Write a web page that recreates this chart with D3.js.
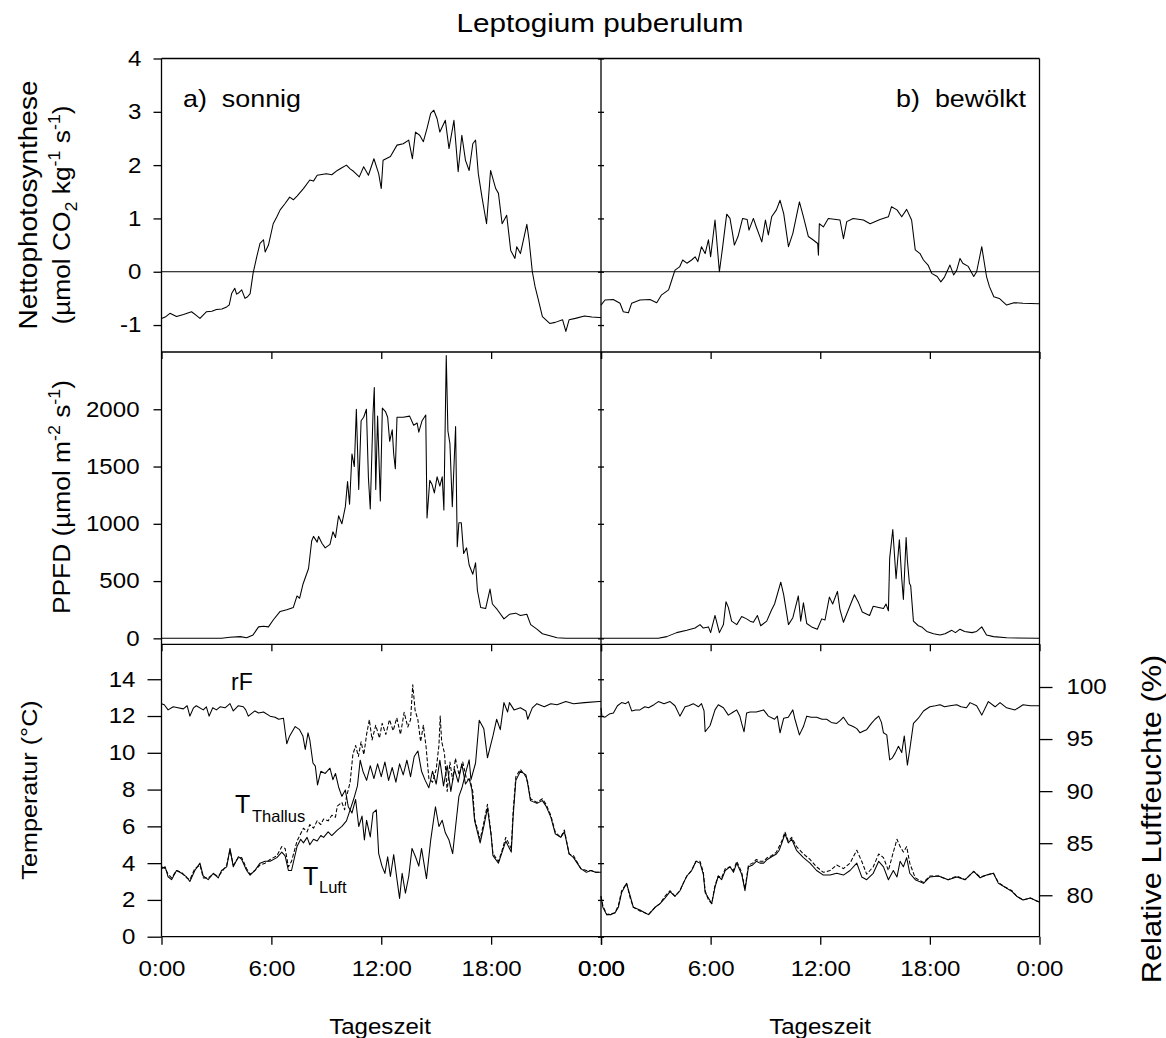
<!DOCTYPE html>
<html><head><meta charset="utf-8">
<script src="https://cdn.jsdelivr.net/npm/d3@7"></script>
<style>body{margin:0;background:#fff} text{font-family:"Liberation Sans",Arial,Helvetica,sans-serif;fill:#000}</style>
</head><body><svg id="c" width="1166" height="1038"></svg>
<script>
// ---------------- data ----------------
const timeTicks=[0,6,12,18,24];
const timeTickLabels=["0:00","6:00","12:00","18:00","0:00"];
const npTicks=[-1,0,1,2,3,4];
const ppfdTicks=[0,500,1000,1500,2000];
const tempTicks=[0,2,4,6,8,10,12,14];
const rhTicks=[80,85,90,95,100];

// Nettophotosynthese, sonnig  [hour, µmol CO2 kg-1 s-1]
const npSunny=[[0,-0.875],[0.2,-0.85],[0.46,-0.78],[0.82,-0.84],[1.2,-0.8],[1.64,-0.75],[1.9,-0.82],[2.1,-0.875],[2.46,-0.75],[2.75,-0.74],[3.0,-0.71],[3.3,-0.7],[3.56,-0.66],[3.7,-0.62],[3.83,-0.41],[4.0,-0.31],[4.1,-0.42],[4.2,-0.4],[4.38,-0.34],[4.56,-0.5],[4.7,-0.47],[4.84,-0.41],[5.0,-0.03],[5.2,0.28],[5.38,0.53],[5.57,0.6],[5.66,0.37],[5.84,0.5],[6.1,0.9],[6.3,1.03],[6.48,1.16],[6.75,1.28],[7.0,1.4],[7.2,1.35],[7.4,1.42],[7.75,1.56],[8.1,1.72],[8.3,1.7],[8.5,1.81],[9.0,1.84],[9.3,1.82],[9.6,1.9],[9.85,1.95],[10.1,2.0],[10.3,1.93],[10.5,1.88],[10.8,1.78],[11.04,1.97],[11.3,1.81],[11.6,2.12],[11.86,1.84],[12.0,1.56],[12.1,2.09],[12.5,2.16],[12.86,2.375],[13.2,2.4],[13.5,2.47],[13.7,2.12],[13.87,2.62],[14.1,2.56],[14.3,2.44],[14.5,2.69],[14.7,2.97],[14.87,3.03],[15.05,2.87],[15.2,2.62],[15.5,2.84],[15.7,2.31],[15.97,2.84],[16.2,1.875],[16.4,2.56],[16.6,2.09],[16.8,1.9],[17.0,2.4],[17.15,2.47],[17.3,1.84],[17.5,1.4],[17.75,0.9],[17.97,1.9],[18.25,1.56],[18.4,1.47],[18.6,0.9],[18.85,1.06],[19.07,0.4],[19.3,0.25],[19.4,0.47],[19.6,0.34],[19.95,0.89],[20.07,0.6],[20.25,0.0],[20.4,-0.28],[20.56,-0.5],[20.8,-0.84],[21.2,-0.97],[21.5,-0.95],[21.9,-0.9],[22.08,-1.12],[22.26,-0.9],[22.6,-0.875],[23.1,-0.83],[23.5,-0.85],[23.9,-0.86],[24,-0.86]];
// Nettophotosynthese, bewölkt
const npCloudy=[[0,-0.625],[0.22,-0.53],[0.67,-0.52],[1.04,-0.59],[1.22,-0.75],[1.5,-0.77],[1.68,-0.59],[2.13,-0.53],[2.68,-0.52],[3.05,-0.58],[3.3,-0.44],[3.7,-0.34],[3.87,-0.16],[4.05,0.03],[4.3,0.09],[4.47,0.22],[4.7,0.16],[4.96,0.22],[5.15,0.28],[5.3,0.19],[5.5,0.47],[5.7,0.34],[5.88,0.6],[6.0,0.28],[6.24,0.97],[6.48,0.0],[6.66,0.47],[6.88,1.08],[7.06,1.0],[7.2,0.72],[7.3,0.5],[7.5,0.66],[7.75,1.0],[8.0,0.98],[8.1,0.78],[8.34,1.0],[8.5,0.84],[8.8,0.56],[9.0,0.97],[9.16,0.69],[9.34,1.03],[9.6,1.16],[9.8,1.34],[10.0,1.09],[10.26,0.47],[10.5,0.72],[10.86,1.31],[11.08,1.03],[11.35,0.66],[11.6,0.6],[11.86,0.53],[11.9,0.31],[11.95,0.9],[12.17,0.84],[12.44,1.0],[13.08,0.97],[13.27,0.62],[13.45,0.94],[13.8,1.0],[14.36,0.97],[14.73,0.9],[15.27,0.98],[15.73,1.03],[15.9,1.22],[16.2,1.16],[16.46,1.03],[16.73,1.17],[17.0,0.97],[17.2,0.41],[17.46,0.34],[17.65,0.22],[17.9,0.125],[18.1,-0.03],[18.4,-0.09],[18.6,-0.19],[18.8,-0.1],[19.1,0.125],[19.3,-0.06],[19.47,0.03],[19.65,0.25],[19.8,0.16],[20.1,0.1],[20.4,-0.09],[20.56,0.0],[20.84,0.47],[21.1,-0.09],[21.26,-0.28],[21.5,-0.47],[21.8,-0.5],[22.2,-0.625],[22.6,-0.58],[23.1,-0.59],[23.94,-0.6],[24,-0.6]];
// PPFD, sonnig [hour, µmol m-2 s-1]
const ppfdSunny=[[0,0],[3.28,0],[3.74,10],[4.3,15],[4.65,5],[5.0,30],[5.3,100],[5.57,105],[5.84,100],[6.1,160],[6.48,235],[6.84,250],[7.2,270],[7.4,370],[7.54,350],[7.72,470],[8.03,610],[8.2,850],[8.3,890],[8.5,840],[8.58,890],[8.76,830],[8.94,790],[9.2,820],[9.36,930],[9.5,880],[9.67,1070],[9.85,1000],[10.04,1150],[10.16,1370],[10.27,1170],[10.4,1610],[10.53,1500],[10.64,2000],[10.77,1300],[10.9,1900],[11.04,1930],[11.19,2000],[11.3,1400],[11.4,1130],[11.55,1960],[11.62,2190],[11.7,1300],[11.8,1940],[11.95,1200],[12.06,2010],[12.23,1980],[12.35,1930],[12.46,1720],[12.6,1820],[12.68,1610],[12.77,1480],[12.86,1930],[13.2,1930],[13.55,1940],[13.77,1860],[13.96,1880],[14.05,1800],[14.23,1900],[14.43,1950],[14.5,1050],[14.65,1380],[14.78,1340],[14.9,1270],[15.05,1410],[15.2,1330],[15.33,1410],[15.42,1120],[15.55,2470],[15.64,1810],[15.75,1700],[15.88,1150],[16.06,1850],[16.15,800],[16.24,1010],[16.37,1010],[16.5,740],[16.66,790],[16.8,640],[17.0,560],[17.15,660],[17.25,420],[17.43,270],[17.7,260],[17.94,430],[18.07,300],[18.34,250],[18.7,170],[19.0,210],[19.34,220],[19.6,200],[19.95,210],[20.16,120],[20.5,80],[20.8,40],[21.26,20],[21.6,5],[22.08,0],[24,0]];
// PPFD, bewölkt
const ppfdCloudy=[[0,0],[3.14,0],[3.6,15],[4.14,50],[4.7,70],[5.15,90],[5.42,120],[5.6,90],[5.88,100],[6.0,50],[6.24,200],[6.48,50],[6.7,120],[6.84,320],[6.97,270],[7.15,150],[7.43,120],[7.7,190],[7.97,170],[8.16,150],[8.34,140],[8.56,200],[8.74,110],[9.07,150],[9.34,250],[9.5,300],[9.84,490],[10.0,380],[10.26,120],[10.5,180],[10.8,370],[10.93,150],[11.08,310],[11.26,130],[11.53,100],[11.84,80],[12.08,170],[12.26,160],[12.5,360],[12.68,300],[12.94,410],[13.08,250],[13.27,140],[13.54,250],[13.87,380],[14.1,310],[14.3,230],[14.7,200],[14.9,280],[15.2,270],[15.46,260],[15.6,300],[15.73,240],[15.8,700],[15.97,950],[16.15,520],[16.33,860],[16.46,520],[16.55,340],[16.7,880],[16.77,680],[16.88,480],[16.95,460],[17.1,150],[17.37,110],[17.55,100],[17.83,60],[18.2,40],[18.56,30],[18.83,40],[19.2,70],[19.4,50],[19.65,80],[19.9,60],[20.3,50],[20.56,60],[20.84,100],[21.1,30],[21.48,15],[22.2,5],[23.94,0],[24,0]];
// Relative Luftfeuchte rF, sonnig [hour, %]
const rhSunny=[[0,98.4],[0.15,98.3],[0.36,97.8],[0.64,98.1],[0.9,98.0],[1.19,97.9],[1.4,98.2],[1.55,97.2],[1.75,98.0],[1.9,98.2],[2.28,97.8],[2.45,98.1],[2.6,97.2],[2.8,98.0],[3.0,97.8],[3.2,98.1],[3.47,98.0],[3.74,98.4],[3.92,97.7],[4.2,98.2],[4.47,98.1],[4.6,97.8],[4.74,97.2],[5.1,97.7],[5.3,97.5],[5.57,97.6],[5.93,97.2],[6.2,97.1],[6.4,96.9],[6.66,97.0],[6.84,94.55],[7.0,95.3],[7.3,96.2],[7.54,95.9],[7.72,95.3],[7.85,94.0],[8.0,95.6],[8.1,94.9],[8.27,92.7],[8.4,92.4],[8.52,90.6],[8.7,91.9],[8.94,91.7],[9.2,92.2],[9.36,91.1],[9.5,91.7],[9.67,90.4],[9.85,89.5],[10.04,90.1],[10.2,88.5],[10.4,87.9],[10.6,89.2],[10.77,86.6],[10.95,87.6],[11.08,85.3],[11.2,87.2],[11.4,85.6],[11.55,87.9],[11.73,88.2],[11.86,84.0],[12.04,82.8],[12.2,82.1],[12.35,83.7],[12.5,81.8],[12.68,83.9],[12.86,81.5],[13.0,79.7],[13.14,82.1],[13.32,80.2],[13.5,81.8],[13.68,84.5],[13.87,83.7],[14.05,82.8],[14.2,84.5],[14.47,81.6],[14.7,85.3],[14.96,88.5],[15.15,86.6],[15.33,87.2],[15.5,86.0],[15.7,85.3],[15.9,84.0],[16.06,86.6],[16.24,89.5],[16.42,90.4],[16.6,91.7],[16.8,93.0],[16.9,91.1],[17.15,92.7],[17.35,96.8],[17.6,96.0],[17.8,93.2],[18.1,95.3],[18.3,96.9],[18.5,95.9],[18.7,98.5],[18.9,97.6],[19.0,98.5],[19.25,97.8],[19.6,98.0],[19.9,97.7],[20.0,96.9],[20.25,98.0],[20.5,98.4],[20.9,98.1],[21.26,98.4],[21.6,98.3],[22.08,98.6],[22.5,98.4],[23.1,98.5],[23.9,98.6],[24,98.6]];
// Temperatur, sonnig [hour, °C]
const tLuftSunny=[[0,3.7],[0.2,3.8],[0.36,3.26],[0.55,3.1],[0.82,3.6],[1.1,3.45],[1.37,3.25],[1.55,3.0],[1.82,3.6],[2.1,4.0],[2.28,3.3],[2.55,3.1],[2.83,3.45],[3.1,3.2],[3.28,3.6],[3.56,3.8],[3.74,4.8],[3.92,3.8],[4.2,4.35],[4.38,4.2],[4.65,3.6],[4.84,3.35],[5.1,3.6],[5.38,4.0],[5.66,4.1],[5.93,4.1],[6.3,4.3],[6.57,4.6],[6.75,4.4],[6.93,3.6],[7.1,3.6],[7.4,4.9],[7.6,5.3],[7.75,5.1],[7.95,5.4],[8.1,5.0],[8.3,5.3],[8.5,5.2],[8.7,5.5],[8.85,5.4],[9.1,5.7],[9.3,5.5],[9.6,5.8],[9.85,6.0],[10.1,6.3],[10.3,6.9],[10.5,7.5],[10.7,8.2],[10.85,9.6],[11.0,9.0],[11.2,8.5],[11.4,9.3],[11.6,8.6],[11.8,9.4],[12.0,8.7],[12.2,9.5],[12.4,8.5],[12.6,9.2],[12.8,8.4],[13.0,9.4],[13.2,8.8],[13.4,9.6],[13.6,8.7],[13.8,9.8],[14.0,10.1],[14.2,9.0],[14.4,8.5],[14.6,8.1],[14.8,9.0],[15.0,8.3],[15.2,9.6],[15.4,8.2],[15.6,9.3],[15.8,7.9],[16.0,9.1],[16.2,8.4],[16.4,9.4],[16.6,8.3],[16.8,8.6],[16.95,8.0],[17.1,6.3],[17.4,5.1],[17.6,6.0],[17.8,7.0],[18.0,5.5],[18.1,4.4],[18.4,4.0],[18.6,4.6],[18.8,5.2],[19.1,4.6],[19.2,6.5],[19.35,8.5],[19.6,9.0],[19.9,8.8],[20.0,8.3],[20.15,7.4],[20.5,7.25],[20.8,7.4],[21.0,7.1],[21.26,6.5],[21.5,5.6],[21.8,5.4],[22.0,5.7],[22.26,4.5],[22.5,4.3],[22.9,3.7],[23.2,3.5],[23.45,3.6],[23.7,3.5],[23.9,3.5],[24,3.5]];
const tThallusSunny=[[0,3.8],[0.2,3.7],[0.36,3.4],[0.55,3.2],[0.82,3.6],[1.1,3.5],[1.37,3.2],[1.55,3.1],[1.82,3.7],[2.1,3.9],[2.28,3.2],[2.55,3.2],[2.83,3.4],[3.1,3.3],[3.28,3.5],[3.56,3.9],[3.74,4.7],[3.92,3.9],[4.2,4.3],[4.38,4.3],[4.65,3.7],[4.84,3.4],[5.1,3.6],[5.38,3.9],[5.66,4.0],[5.93,4.2],[6.3,4.4],[6.57,4.9],[6.75,4.8],[6.93,3.8],[7.1,4.1],[7.4,5.2],[7.6,5.6],[7.75,5.9],[7.95,5.7],[8.1,6.1],[8.3,5.9],[8.5,6.3],[8.7,6.1],[8.85,6.4],[9.1,6.3],[9.3,6.6],[9.5,6.5],[9.6,7.1],[9.85,7.3],[10.0,6.9],[10.1,7.6],[10.3,8.4],[10.45,9.9],[10.6,10.4],[10.75,9.8],[10.9,10.6],[11.05,9.9],[11.2,11.0],[11.35,11.8],[11.5,10.7],[11.7,11.5],[11.9,10.8],[12.05,11.6],[12.25,11.0],[12.45,11.8],[12.65,11.2],[12.85,11.9],[13.05,11.0],[13.25,12.2],[13.45,11.4],[13.6,11.8],[13.72,13.7],[13.85,12.3],[14.0,11.8],[14.15,10.6],[14.3,11.5],[14.45,10.3],[14.6,8.6],[14.8,8.4],[15.0,9.1],[15.15,10.4],[15.22,12.0],[15.3,10.6],[15.45,10.0],[15.6,7.9],[15.75,9.5],[15.9,8.5],[16.05,9.7],[16.25,8.8],[16.45,9.5],[16.65,8.6],[16.85,8.5],[17.0,7.9],[17.1,6.4],[17.4,5.3],[17.6,6.2],[17.8,7.2],[18.0,5.6],[18.1,4.5],[18.4,4.1],[18.6,4.7],[18.8,5.4],[19.1,4.8],[19.2,6.8],[19.35,8.7],[19.6,9.1],[19.9,8.7],[20.0,8.4],[20.15,7.5],[20.5,7.3],[20.8,7.5],[21.0,7.2],[21.26,6.6],[21.5,5.7],[21.8,5.4],[22.0,5.8],[22.26,4.5],[22.5,4.4],[22.9,3.7],[23.2,3.6],[23.45,3.6],[23.7,3.5],[23.9,3.5],[24,3.5]];
// Relative Luftfeuchte rF, bewölkt
const rhCloudy=[[0,98.0],[0.05,97.2],[0.22,97.1],[0.45,97.4],[0.68,97.5],[0.9,98.2],[1.13,98.5],[1.35,98.4],[1.5,98.6],[1.68,97.7],[1.9,97.8],[2.13,97.8],[2.4,98.1],[2.6,98.0],[2.9,98.3],[3.14,98.6],[3.45,98.4],[3.78,98.6],[4.05,98.2],[4.32,97.2],[4.6,98.1],[4.8,98.2],[5.05,98.4],[5.33,98.1],[5.5,98.4],[5.64,97.7],[5.7,95.7],[5.97,96.3],[6.24,97.8],[6.42,98.3],[6.7,98.0],[6.97,97.3],[7.24,97.6],[7.43,97.8],[7.6,97.2],[7.7,96.5],[7.83,95.7],[7.97,97.5],[8.16,97.6],[8.5,97.6],[8.9,97.8],[9.16,97.2],[9.5,96.9],[9.65,97.2],[9.8,95.6],[10.0,97.0],[10.25,97.1],[10.5,97.8],[10.6,97.0],[10.86,95.4],[11.08,96.2],[11.26,97.2],[11.5,97.1],[11.8,97.1],[12.1,96.9],[12.35,96.9],[12.6,96.6],[12.9,96.5],[13.1,96.8],[13.27,97.1],[13.54,96.4],[13.8,96.2],[14.0,96.0],[14.18,95.6],[14.4,95.8],[14.54,95.9],[14.8,96.5],[15.0,96.9],[15.2,97.2],[15.35,96.6],[15.46,95.6],[15.64,95.4],[15.8,93.0],[15.95,93.2],[16.1,93.65],[16.28,94.3],[16.46,93.7],[16.6,95.3],[16.77,92.5],[16.9,94.0],[17.1,96.5],[17.37,97.0],[17.65,97.7],[18.0,98.1],[18.3,98.2],[18.56,98.3],[18.8,98.1],[19.1,98.2],[19.47,98.3],[19.7,98.1],[20.0,98.0],[20.2,98.5],[20.56,98.2],[20.84,97.3],[21.2,98.6],[21.57,98.1],[21.84,98.5],[22.2,98.0],[22.66,97.8],[23.1,98.3],[23.5,98.2],[23.94,98.2],[24,98.2]];
// Temperatur, bewölkt
const tLuftCloudy=[[0,2.2],[0.1,1.6],[0.31,1.2],[0.55,1.2],[0.77,1.3],[0.95,1.6],[1.13,2.4],[1.4,2.9],[1.6,2.2],[1.77,1.6],[2.13,1.45],[2.4,1.3],[2.6,1.2],[2.96,1.6],[3.23,1.8],[3.5,2.1],[3.78,2.45],[4.05,2.2],[4.32,2.5],[4.5,2.9],[4.7,3.3],[4.96,3.6],[5.2,4.1],[5.42,4.0],[5.6,3.4],[5.7,2.4],[5.88,2.1],[6.06,1.8],[6.24,2.7],[6.42,3.3],[6.6,3.1],[6.8,3.6],[7.06,3.8],[7.25,3.5],[7.43,4.0],[7.7,3.4],[7.88,2.5],[8.07,3.8],[8.3,3.9],[8.5,4.1],[8.7,4.0],[8.9,4.0],[9.1,4.2],[9.34,4.35],[9.6,4.5],[9.75,4.7],[9.9,5.1],[10.07,5.6],[10.25,5.1],[10.44,5.3],[10.7,4.7],[11.08,4.3],[11.44,4.0],[11.8,3.6],[12.17,3.35],[12.54,3.35],[12.9,3.45],[13.27,3.35],[13.63,3.6],[14.0,4.0],[14.27,3.25],[14.54,3.1],[14.9,3.45],[15.2,4.1],[15.46,3.8],[15.73,3.1],[16.0,3.6],[16.2,3.25],[16.37,4.1],[16.55,3.8],[16.73,4.3],[16.9,3.45],[17.2,3.1],[17.65,2.9],[18.0,3.25],[18.47,3.3],[19.0,3.1],[19.47,3.25],[19.93,3.1],[20.4,3.55],[20.75,3.2],[21.1,3.35],[21.48,3.45],[21.75,2.9],[22.1,2.7],[22.5,2.45],[22.75,2.2],[23.1,2.0],[23.5,2.1],[23.94,1.9],[24,1.9]];
const tThallusCloudy=[[0,2.2],[0.1,1.7],[0.31,1.2],[0.55,1.25],[0.77,1.3],[0.95,1.7],[1.13,2.5],[1.4,2.9],[1.6,2.1],[1.77,1.6],[2.13,1.4],[2.4,1.3],[2.6,1.2],[2.96,1.6],[3.23,1.8],[3.5,2.2],[3.78,2.5],[4.05,2.2],[4.32,2.5],[4.5,2.9],[4.7,3.3],[4.96,3.6],[5.2,4.1],[5.42,4.1],[5.6,3.5],[5.7,2.5],[5.88,2.0],[6.06,1.8],[6.24,2.8],[6.42,3.3],[6.6,3.2],[6.8,3.7],[7.06,3.8],[7.25,3.6],[7.43,4.1],[7.7,3.5],[7.88,2.6],[8.07,3.9],[8.3,4.0],[8.5,4.2],[8.7,4.1],[8.9,4.1],[9.1,4.3],[9.34,4.4],[9.6,4.6],[9.75,4.9],[9.9,5.2],[10.07,5.7],[10.25,5.2],[10.44,5.4],[10.7,4.9],[11.08,4.5],[11.44,4.2],[11.8,3.8],[12.17,3.5],[12.54,3.6],[12.9,3.9],[13.27,3.7],[13.63,4.0],[14.0,4.7],[14.27,4.1],[14.54,3.4],[14.9,3.8],[15.2,4.5],[15.46,4.3],[15.73,3.6],[16.0,4.6],[16.2,5.3],[16.37,4.9],[16.55,4.6],[16.73,4.9],[16.9,4.0],[17.2,3.2],[17.65,2.95],[18.0,3.3],[18.47,3.3],[19.0,3.1],[19.47,3.3],[19.93,3.1],[20.4,3.55],[20.75,3.25],[21.1,3.35],[21.48,3.45],[21.75,2.95],[22.1,2.7],[22.5,2.5],[22.75,2.2],[23.1,2.0],[23.5,2.1],[23.94,1.9],[24,1.9]];

// ---------------- drawing ----------------
const svg=d3.select("#c");
const SX=1.12; // horizontal stretch of the lettering
const TICKFONT=21.5;
const X0=161.5, XM=601, X1=1039.5;
const xL=d3.scaleLinear().domain([0,24]).range([X0,XM]);
const xR=d3.scaleLinear().domain([0,24]).range([XM,X1]);
const yNP=d3.scaleLinear().domain([-1.5,4]).range([351.7,58.5]);
const yPP=d3.scaleLinear().domain([-52,2500]).range([644.3,352]);
const yT=d3.scaleLinear().domain([0,15.9]).range([936.7,644.3]);
const yRH=d3.scaleLinear().domain([76.02,104.1]).range([936.7,644.3]);

function line(data,x,y,dash,w){
  svg.append("path").datum(data)
    .attr("d",d3.line().x(d=>x(d[0])).y(d=>y(d[1])))
    .attr("fill","none").attr("stroke","#000").attr("stroke-width",w||1.05)
    .attr("stroke-linejoin","round")
    .attr("stroke-dasharray",dash||null);
}
svg.append("line").attr("x1",X0).attr("x2",X1).attr("y1",yNP(0)).attr("y2",yNP(0)).attr("stroke","#000").attr("stroke-width",1);

line(npSunny,xL,yNP); line(npCloudy,xR,yNP);
line(ppfdSunny,xL,yPP); line(ppfdCloudy,xR,yPP);
line(rhSunny,xL,yRH); line(rhCloudy,xR,yRH);
line(tLuftSunny,xL,yT); line(tThallusSunny,xL,yT,"4,2");
line(tLuftCloudy,xR,yT); line(tThallusCloudy,xR,yT,"4,2");

const fr=svg.append("g").attr("stroke","#000").attr("stroke-width",1.3);
[[X0,58.5,X1,58.5],[X0,352,X1,352],[X0,644.3,X1,644.3],[X0,936.7,X1,936.7],
 [X0,58.5,X0,936.7],[XM,58.5,XM,936.7],[X1,58.5,X1,936.7]].forEach(l=>
  fr.append("line").attr("x1",l[0]).attr("y1",l[1]).attr("x2",l[2]).attr("y2",l[3]));

function styleAxis(g,gap,orient){
  g.select(".domain").remove();
  g.selectAll("line").attr("stroke","#000").attr("stroke-width",1.3);
  const t=g.selectAll("text").attr("font-size",TICKFONT).attr("fill","#000")
    .attr("font-family",'"Liberation Sans",Arial,sans-serif');
  if(orient==="left") t.attr("x",-gap/SX).attr("transform",`scale(${SX},1)`);
  if(orient==="right") t.attr("x",gap/SX).attr("transform",`scale(${SX},1)`);
  if(orient==="bottom") t.attr("y",gap).attr("transform",`scale(${SX},1)`);
}
const fmt=d=>String(d);
styleAxis(svg.append("g").attr("transform",`translate(${X0},0)`)
  .call(d3.axisLeft(yNP).tickValues(npTicks).tickSize(8).tickFormat(fmt)),20,"left");
styleAxis(svg.append("g").attr("transform",`translate(${X0},0)`)
  .call(d3.axisLeft(yPP).tickValues(ppfdTicks).tickSize(8).tickFormat(fmt)),22,"left");
styleAxis(svg.append("g").attr("transform",`translate(${X0},0)`)
  .call(d3.axisLeft(yT).tickValues(tempTicks).tickSize(14).tickFormat(fmt)),26,"left");
styleAxis(svg.append("g").attr("transform",`translate(${X1},0)`)
  .call(d3.axisRight(yRH).tickValues(rhTicks).tickSize(13).tickFormat(fmt)),27,"right");
[[yNP,npTicks],[yPP,ppfdTicks],[yT,tempTicks]].forEach(([s,tv])=>{
  styleAxis(svg.append("g").attr("transform",`translate(${XM},0)`)
    .call(d3.axisLeft(s).tickValues(tv).tickSize(3).tickFormat("")),0,"none");
  styleAxis(svg.append("g").attr("transform",`translate(${XM},0)`)
    .call(d3.axisRight(s).tickValues(tv).tickSize(3).tickFormat("")),0,"none");
});
[xL,xR].forEach(x=>{
  [352,644.3].forEach(yy=>styleAxis(svg.append("g").attr("transform",`translate(0,${yy})`)
    .call(d3.axisBottom(x).tickValues(timeTicks).tickSize(7).tickFormat("")),0,"none"));
  styleAxis(svg.append("g").attr("transform",`translate(0,936.7)`)
    .call(d3.axisBottom(x).tickValues(timeTicks).tickSize(8).tickFormat((d,i)=>timeTickLabels[i])),24,"bottom");
});

function label(x,y,rot,size,sx,anchor,parts){
  const g=svg.append("g").attr("transform",`translate(${x},${y}) rotate(${rot}) scale(${sx},1)`);
  const t=g.append("text").attr("text-anchor",anchor).attr("font-size",size).style("white-space","pre");
  let shift=0;
  parts.forEach(p=>{
    if(typeof p==="string"){ t.append("tspan").attr("dy",-shift).attr("font-size",size).text(p); shift=0; }
    else { const s=p.sub?0.3*size:-0.42*size; t.append("tspan").attr("dy",s-shift).attr("font-size",size*0.68).text(p.t); shift=s; }
  });
  if(shift) t.append("tspan").attr("dy",-shift).text("");
}
label(600,32,0,26.5,SX,"middle",["Leptogium puberulum"]);
label(183,107,0,24,SX,"start",["a)  sonnig"]);
label(1026,107,0,24,SX,"end",["b)  bewölkt"]);
label(37,205,-90,25,SX,"middle",["Nettophotosynthese"]);
label(70,215,-90,23.5,SX,"middle",["(µmol CO",{t:"2",sub:1}," kg",{t:"-1",sup:1}," s",{t:"-1",sup:1},")"]);
label(70,497,-90,23.5,SX,"middle",["PPFD (µmol m",{t:"-2",sup:1}," s",{t:"-1",sup:1},")"]);
label(37,790,-90,22.5,SX,"middle",["Temperatur (°C)"]);
label(1161,819,-90,27.5,SX,"middle",["Relative Luftfeuchte (%)"]);
label(380,1034,0,21.5,SX,"middle",["Tageszeit"]);
label(820,1034,0,21.5,SX,"middle",["Tageszeit"]);
label(231,690,0,23,1.0,"start",["rF"]);
label(235,813,0,25,1.0,"start",["T"]);
label(252,822,0,16.5,1.0,"start",["Thallus"]);
label(303,885,0,25,1.0,"start",["T"]);
label(319,893,0,16.5,1.0,"start",["Luft"]);
</script></body></html>
